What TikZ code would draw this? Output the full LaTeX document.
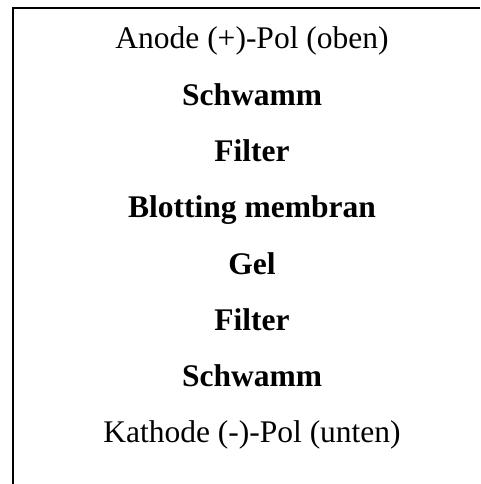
\documentclass[tikz,border=0pt]{standalone}
\usepackage{fontspec}
\setmainfont{Liberation Serif}
\begin{document}
\begin{tikzpicture}[x=1pt,y=1pt,
  layer/.style={anchor=base,inner sep=0pt,font=\fontsize{31.5}{36}\selectfont},
  layerb/.style={layer,font=\fontsize{31.5}{36}\selectfont\bfseries},
  frame/.style={line width=2pt,black,line join=miter}]
\useasboundingbox (0,0) rectangle (480,484);
% open frame: top edge and left edge only
\draw[frame] (480,476) -- (13,476) -- (13,0);
% stack of the blotting sandwich, top to bottom
\node[layer]  (anode)  at (252,435)   {Anode (+)-Pol (oben)};
\node[layerb] (sponge1) at (252,378.7) {Schwamm};
\node[layerb] (filter1) at (252,322.4) {Filter};
\node[layerb] (membrane) at (252,266.1) {Blotting membran};
\node[layerb] (gel)    at (252,209.8) {Gel};
\node[layerb] (filter2) at (252,153.5) {Filter};
\node[layerb] (sponge2) at (252,97.2)  {Schwamm};
\node[layer]  (cathode) at (252,41)    {Kathode (-)-Pol (unten)};
\end{tikzpicture}
\end{document}
